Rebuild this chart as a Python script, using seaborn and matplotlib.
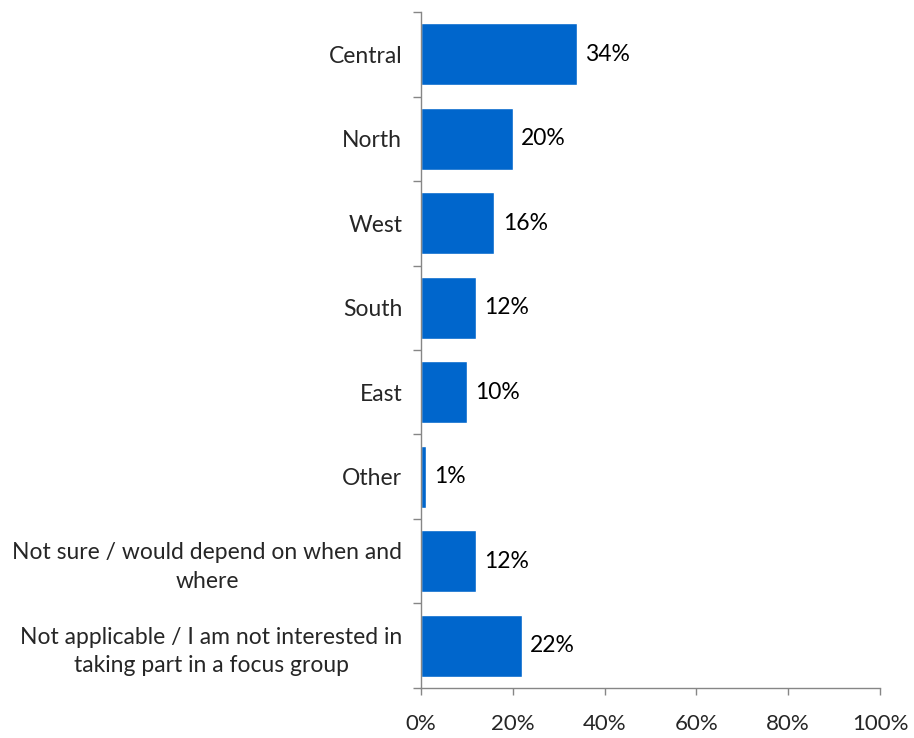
import matplotlib
matplotlib.use("Agg")
import matplotlib.pyplot as plt
import seaborn as sns
import pandas as pd
import numpy as np

categories = [
    "Central",
    "North",
    "West",
    "South",
    "East",
    "Other",
    "Not sure / would depend on when and\nwhere",
    "Not applicable / I am not interested in\ntaking part in a focus group",
]
values = [34, 20, 16, 12, 10, 1, 12, 22]
x_ticks = [0, 20, 40, 60, 80, 100]
x_tick_labels = ["0%", "20%", "40%", "60%", "80%", "100%"]

sns.set_style("white")
plt.rcParams["font.family"] = ["Lato", "DejaVu Sans"]

df = pd.DataFrame({"category": categories, "value": values})

fig = plt.figure(figsize=(9.14, 7.38), dpi=100)
ax = fig.add_axes([0.4606, 0.0678, 0.5022, 0.9159])

sns.barplot(data=df, y="category", x="value", orient="h", color="#0066CC",
            saturation=1, width=0.73, ax=ax)

for i, v in enumerate(values):
    ax.text(v + 1.8, i, f"{v}%", va="center", ha="left", fontsize=16.5, color="#000000")

ax.set_xlim(0, 100)
ax.set_ylim(len(categories) - 0.5, -0.5)
ax.set_xticks(x_ticks)
ax.set_xticklabels(x_tick_labels, fontsize=16)
ax.set_xlabel("")
ax.set_ylabel("")

ax.set_yticks(range(len(categories)))
ax.set_yticklabels(categories, fontsize=16.5, multialignment="center", linespacing=1.45)
ax.set_yticks(np.arange(-0.5, len(categories), 1.0), minor=True)
ax.tick_params(axis="y", which="major", left=True, length=0, pad=13.5)
ax.tick_params(axis="y", which="minor", left=True, length=5.5, width=1,
               color="#868686", direction="out")
ax.tick_params(axis="x", which="major", bottom=True, length=5, width=1,
               color="#868686", direction="out", pad=14)

for side in ["top", "right"]:
    ax.spines[side].set_visible(False)
for side in ["left", "bottom"]:
    ax.spines[side].set_color("#868686")
    ax.spines[side].set_linewidth(1)

fig.savefig("out.png", dpi=100, facecolor="white")
